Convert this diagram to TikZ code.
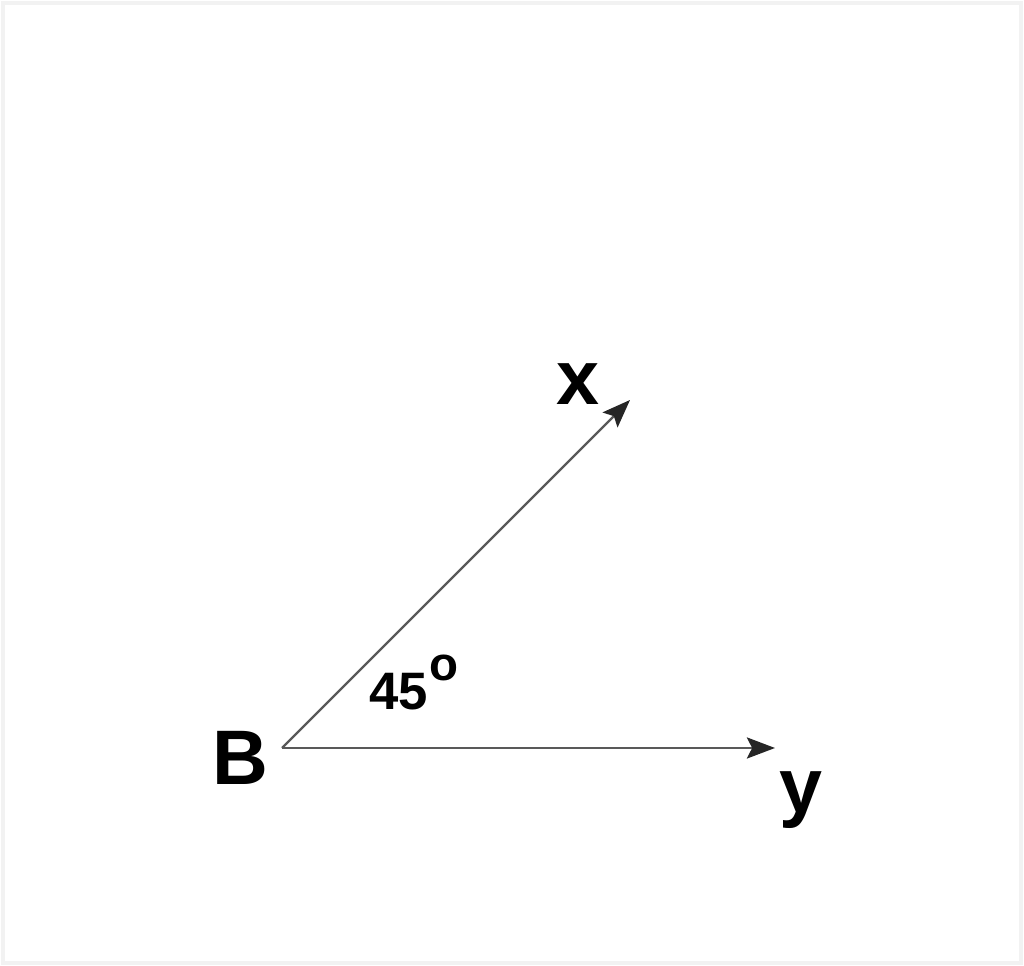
\documentclass[tikz,border=0pt]{standalone}
\usepackage{fontspec}
\setmainfont{Liberation Sans}
\usetikzlibrary{arrows.meta}

\begin{document}
\begin{tikzpicture}[x=0.02cm,y=0.02cm,
    ray/.style={draw=black!65, line width=1.4pt, -{Stealth[length=16pt,width=12pt,inset=3pt,black!85]}},
    lbl/.style={font=\fontsize{44}{44}\bfseries, anchor=base, inner sep=0pt}]
  \useasboundingbox (0,0) rectangle (1024,966);
  \draw[black!5, line width=2pt] (3,3) rectangle (1021,963);

  \coordinate (B) at (282,218);
  \coordinate (X) at (630,566);
  \coordinate (Y) at (775,218);

  \draw[ray] (B) -- (X);
  \draw[ray] (B) -- (Y);

  \node[lbl] (lx) at (578,561) {x};
  \node[lbl] (lb) at (240,181) {B};
  \node[lbl] (ly) at (801,153) {y};
  \node[anchor=base west, inner sep=0pt, font=\fontsize{30}{30}\bfseries] (ang) at (369,256)
    {45\kern1pt\raisebox{17pt}{\fontsize{27}{27}\selectfont o}};
\end{tikzpicture}
\end{document}
